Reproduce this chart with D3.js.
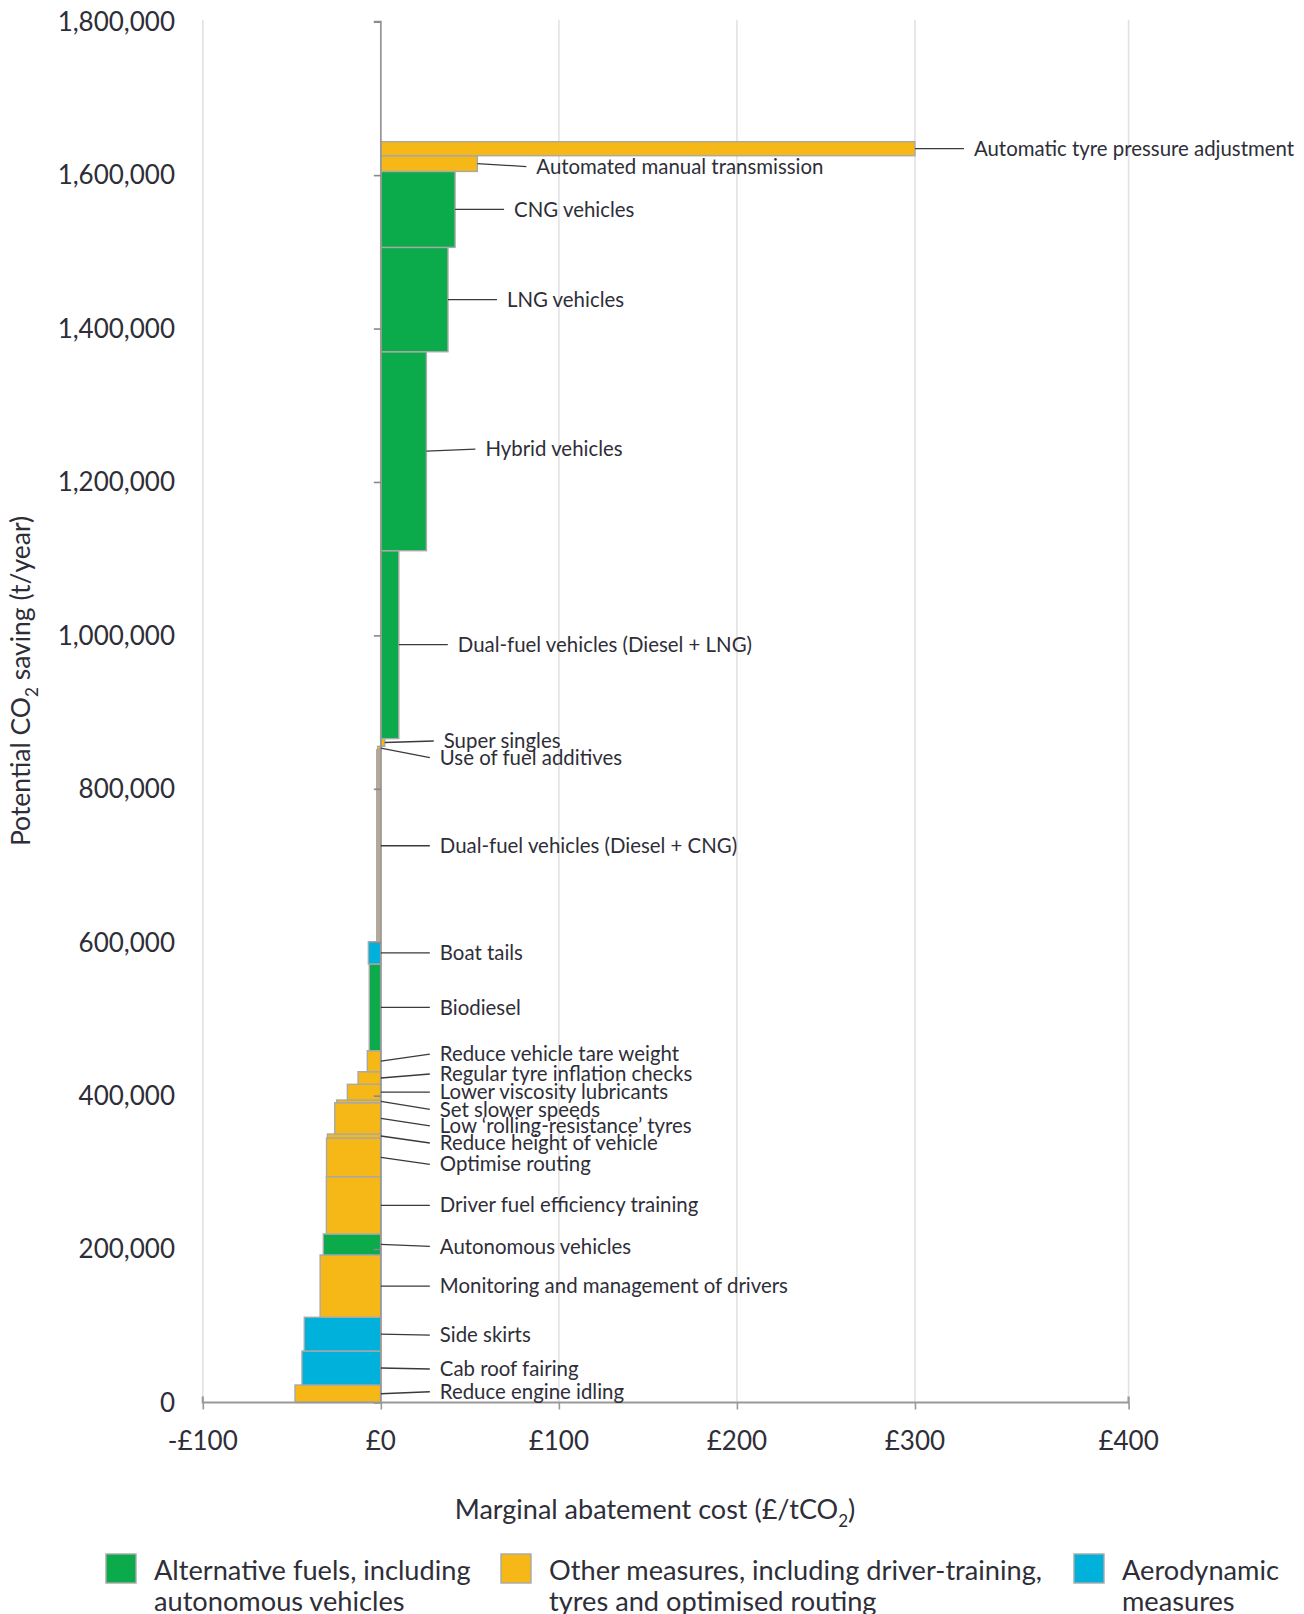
<!DOCTYPE html>
<html>
<head>
<meta charset="utf-8">
<script src="https://cdn.jsdelivr.net/npm/d3@7"></script>
<style>
  html, body { margin: 0; padding: 0; background: #fff; }
  svg { display: block; font-family: Lato, "Open Sans", sans-serif; }
</style>
</head>
<body>
<svg id="chart" width="1304" height="1614"></svg>
<script>
// ---------------- DATA (bottom to top of the curve) ----------------
const categories = [
  "Reduce engine idling", "Cab roof fairing", "Side skirts",
  "Monitoring and management of drivers", "Autonomous vehicles",
  "Driver fuel efficiency training", "Optimise routing", "Reduce height of vehicle",
  "Low \u2018rolling-resistance\u2019 tyres", "Set slower speeds", "Lower viscosity lubricants",
  "Regular tyre inflation checks", "Reduce vehicle tare weight", "Biodiesel", "Boat tails",
  "Dual-fuel vehicles (Diesel + CNG)", "Use of fuel additives", "Super singles",
  "Dual-fuel vehicles (Diesel + LNG)", "Hybrid vehicles", "LNG vehicles", "CNG vehicles",
  "Automated manual transmission", "Automatic tyre pressure adjustment"
];
// marginal abatement cost, £/tCO2
const costs = [-48.2, -44.3, -43.0, -34.1, -32.3, -30.6, -30.5, -30.0, -25.9, -24.8, -18.8,
  -12.8, -7.6, -6.5, -7.0, -2.3, -1.8, 2.2, 10.1, 25.6, 37.7, 41.7, 54.2, 300];
// potential CO2 saving, t/year
const savings = [22800, 44300, 44000, 81200, 27400, 74700, 50400, 5200, 40800, 3500, 20500,
  16400, 27400, 113000, 29100, 250200, 4500, 10000, 245000, 259400, 136000, 99000, 20500, 18300];
const groups = ["other", "aero", "aero", "other", "alt", "other", "other", "other", "other", "other",
  "other", "other", "other", "alt", "aero", "dual", "other", "other", "alt", "alt", "alt", "alt",
  "other", "other"];

const legendKeys = ["alt", "other", "aero"];
const legendLabels = [
  ["Alternative fuels, including", "autonomous vehicles"],
  ["Other measures, including driver-training,", "tyres and optimised routing"],
  ["Aerodynamic", "measures"]
];

const xTickValues = [-100, 0, 100, 200, 300, 420];
const xTickLabels = ["-\u00a3100", "\u00a30", "\u00a3100", "\u00a3200", "\u00a3300", "\u00a3400"];
const yTickValues = [0, 200000, 400000, 600000, 800000, 1000000, 1200000, 1400000, 1600000, 1800000];

// ---------------- LAYOUT / STYLE ----------------
const colors = { alt: "#0bab4b", other: "#f6b817", aero: "#00b1dc", dual: "#b8a990" };
// vertical offset of each label from its bar's middle (pixels)
const labelShift = [-2, 1, 1, 0, 2, 0, 7, 7, 7.5, 8, 0, -4, -7, 0, 0, 0, 9.5, -1.5, 0, -2, 0, 0, 3, 0];

const svg = d3.select("#chart");
const x = d3.scaleLinear().domain([-100, 420]).range([202.8, 1128.6]);
const y = d3.scaleLinear().domain([0, 1800000]).range([1402.5, 21.7]);

// cumulative stacking
let cum = 0;
const bars = categories.map((name, i) => {
  const b = { name, cost: costs[i], save: savings[i], group: groups[i], y0: cum, y1: cum + savings[i], shift: labelShift[i] };
  cum += savings[i];
  return b;
});

// gridlines
svg.append("g").selectAll("line").data(xTickValues.filter(v => v !== 0)).join("line")
  .attr("x1", d => x(d)).attr("x2", d => x(d))
  .attr("y1", y(1800000) - 2).attr("y2", y(0))
  .attr("stroke", "#e2e2e2").attr("stroke-width", 1.6);

// bars
svg.append("g").selectAll("rect").data(bars).join("rect")
  .attr("x", d => x(Math.min(0, d.cost)))
  .attr("width", d => Math.abs(x(d.cost) - x(0)))
  .attr("y", d => y(d.y1))
  .attr("height", d => y(d.y0) - y(d.y1))
  .attr("fill", d => colors[d.group])
  .attr("stroke", "#a8a8a8").attr("stroke-width", 1.4);

// y axis (line + ticks at x=0)
const yAxis = d3.axisLeft(y).tickValues(yTickValues).tickSize(7).tickFormat("");
const yg = svg.append("g").attr("transform", `translate(${x(0)},0)`).call(yAxis);
yg.select(".domain").attr("stroke", "#999").attr("stroke-width", 1.8).attr("d", `M-7,${y(1800000)}H0V${y(0)}`);
yg.selectAll(".tick line").attr("stroke", "#888").attr("stroke-width", 1.6);

// y tick labels at far left
svg.append("g").selectAll("text").data(yTickValues).join("text")
  .attr("x", 175).attr("y", d => y(d)).attr("dy", "0.36em")
  .attr("text-anchor", "end").attr("font-size", 26).attr("fill", "#2e2e38")
  .text(d => d3.format(",")(d));

// x axis
const xAxis = d3.axisBottom(x).tickValues(xTickValues).tickSize(7).tickFormat("");
const xg = svg.append("g").attr("transform", `translate(0,${y(0)})`).call(xAxis);
xg.select(".domain").attr("stroke", "#999").attr("stroke-width", 2.2).attr("d", `M${x(-100)},-6V0H${x(420)}V-6`);
xg.selectAll(".tick line").attr("stroke", "#999").attr("stroke-width", 1.6);
svg.append("g").selectAll("text").data(xTickValues).join("text")
  .attr("x", d => x(d)).attr("y", 1441).attr("dy", "0.36em")
  .attr("text-anchor", "middle").attr("font-size", 26).attr("fill", "#2e2e38")
  .text((d, i) => xTickLabels[i]);

// leader lines + labels
const lab = svg.append("g");
bars.forEach(b => {
  const sx = x(Math.max(0, b.cost));
  const sy = (y(b.y0) + y(b.y1)) / 2;
  const ex = sx + 49;
  const ey = sy + b.shift;
  lab.append("line").attr("x1", sx).attr("y1", sy).attr("x2", ex).attr("y2", ey)
    .attr("stroke", "#3a3a3a").attr("stroke-width", 1.3);
  lab.append("text").attr("x", ex + 10).attr("y", ey).attr("dy", "0.35em")
    .attr("font-size", 20.4).attr("fill", "#2e2e38").text(b.name);
});

// axis titles
const xt = svg.append("text").attr("x", 655).attr("y", 1510).attr("dy", "0.35em")
  .attr("text-anchor", "middle").attr("font-size", 27).attr("fill", "#2e2e38");
xt.append("tspan").text("Marginal abatement cost (\u00a3/tCO");
xt.append("tspan").attr("font-size", 17).attr("dy", 8).text("2");
xt.append("tspan").attr("dy", -8).text(")");

const yt = svg.append("text").attr("transform", "translate(21,681) rotate(-90)").attr("dy", "0.35em")
  .attr("text-anchor", "middle").attr("font-size", 26.5).attr("fill", "#2e2e38");
yt.append("tspan").text("Potential CO");
yt.append("tspan").attr("font-size", 17).attr("dy", 8).text("2");
yt.append("tspan").attr("dy", -8).text(" saving (t/year)");

// legend
const legX = [106, 501, 1074];
const lg = svg.append("g");
legendKeys.forEach((k, i) => {
  lg.append("rect").attr("x", legX[i]).attr("y", 1554).attr("width", 30).attr("height", 29)
    .attr("fill", colors[k]).attr("stroke", "#a8a8a8").attr("stroke-width", 1.4);
  legendLabels[i].forEach((line, j) => {
    lg.append("text").attr("x", legX[i] + 48).attr("y", 1570 + j * 31).attr("dy", "0.35em")
      .attr("font-size", 27.2).attr("fill", "#2e2e38").text(line);
  });
});
</script>
</body>
</html>
